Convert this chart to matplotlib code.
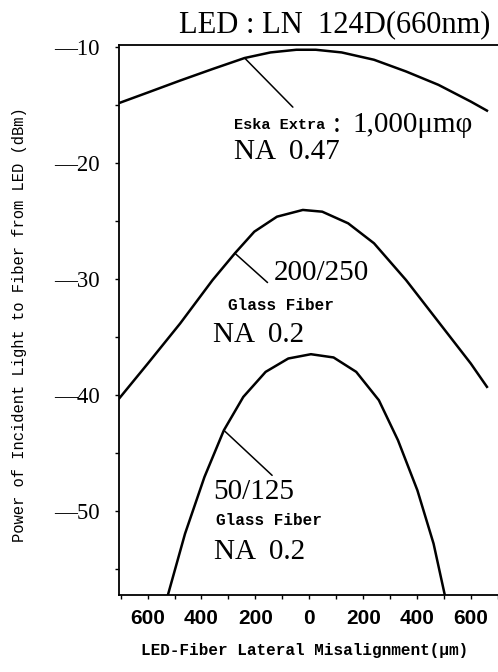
import matplotlib
matplotlib.use('Agg')
import matplotlib.pyplot as plt
import numpy as np

# Data (x in um, y in dBm)
x_eska = [-706, -599, -479, -359, -240, -144, -48, 24, 120, 240, 359, 479, 599, 659]
y_eska = [-14.85, -13.94, -12.91, -11.92, -10.97, -10.49, -10.26, -10.26, -10.49, -11.12,
          -12.13, -13.28, -14.72, -15.5]

x_200 = [-706, -599, -479, -359, -276, -204, -120, -24, 48, 144, 240, 359, 479, 599, 659]
y_200 = [-40.3, -37.27, -33.82, -30.09, -27.78, -25.92, -24.63, -24.05, -24.2, -25.2,
         -26.92, -30.09, -33.68, -37.27, -39.28]

x_50 = [-527, -461, -389, -317, -245, -162, -78, 6, 90, 174, 258, 329, 401, 461, 503]
y_50 = [-57.4, -51.92, -47.04, -43.02, -40.15, -37.99, -36.84, -36.47, -36.75, -37.99,
        -40.43, -43.88, -48.19, -52.78, -57.24]

xticks = [-600, -400, -200, 0, 200, 400, 600]
yticks = [-10, -20, -30, -40, -50]

serif = ['Liberation Serif', 'DejaVu Serif']
mono = ['Liberation Mono', 'DejaVu Sans Mono']

fig = plt.figure(figsize=(4.98, 6.72), dpi=100)
ax = fig.add_axes([119/498, 77/672, 379/498, 550/672])

ax.plot(x_eska, y_eska, 'k-', lw=1.8, solid_joinstyle='round')
ax.plot(x_200, y_200, 'k-', lw=1.8, solid_joinstyle='round')
ax.plot(x_50, y_50, 'k-', lw=1.8, solid_joinstyle='round')

ax.set_xlim(-706, 658)
ax.set_ylim(-57.2, -9.85)
ax.spines['right'].set_visible(False)
for s in ['left', 'top', 'bottom']:
    ax.spines[s].set_linewidth(1.3)

ax.set_xticks(xticks)
ax.set_xticks(np.arange(-700, 701, 100), minor=True)
ax.set_xticklabels(['%d' % abs(v) for v in xticks],
                   family=['Liberation Sans Narrow', 'Liberation Sans', 'DejaVu Sans'],
                   fontweight='bold', fontsize=15)
ax.set_yticks(yticks)
ax.set_yticks([-15, -25, -35, -45, -55], minor=True)
ax.set_yticklabels(['\u2014%d' % abs(v) for v in yticks], family=serif, fontsize=16.5)
ax.tick_params(which='both', direction='out', length=3, width=1)
ax.tick_params(axis='y', pad=11)
ax.tick_params(axis='x', pad=7)

# leader lines
lk = dict(arrowstyle='-', lw=1.1, color='k', shrinkA=0, shrinkB=0)
ax.annotate('', xy=(-240, -10.97), xytext=(-61, -15.2), arrowprops=lk)
ax.annotate('', xy=(-276, -27.78), xytext=(-155, -30.3), arrowprops=lk)
ax.annotate('', xy=(-317, -43.02), xytext=(-138, -46.9), arrowprops=lk)

ax.text(-280, -16.7, 'Eska Extra', family=mono, fontweight='bold', fontsize=11, va='center')
ax.text(86, -16.7, ':', family=serif, fontsize=21, va='center')
ax.text(160, -16.7, '1,000\u03bcm\u03c6', family=serif, fontsize=21, va='center')
ax.text(-280, -19.05, 'NA  0.47', family=serif, fontsize=21, va='center')

ax.text(-133, -29.5, '200/250', family=serif, fontsize=21, va='center')
ax.text(-302, -32.3, 'Glass Fiber', family=mono, fontweight='bold', fontsize=11.5, va='center')
ax.text(-356, -34.8, 'NA  0.2', family=serif, fontsize=21, va='center')

ax.text(-356, -48.3, '50/125', family=serif, fontsize=21, va='center')
ax.text(-345, -50.8, 'Glass Fiber', family=mono, fontweight='bold', fontsize=11.5, va='center')
ax.text(-352, -53.5, 'NA  0.2', family=serif, fontsize=21, va='center')

fig.text(490/498, 1 - 32/672, 'LED : LN  124D(660nm)', family=serif, fontsize=22,
         ha='right', va='baseline')
fig.text(305/498, 1 - 650/672, 'LED-Fiber Lateral Misalignment(\u03bcm)', family=mono,
         fontweight='bold', fontsize=11.5, ha='center', va='center')
fig.text(20/498, 1 - 325/672, 'Power of Incident Light to Fiber from LED (dBm)', family=mono,
         fontsize=11.2, rotation=90, ha='center', va='center')

fig.savefig('out.png', dpi=100)
